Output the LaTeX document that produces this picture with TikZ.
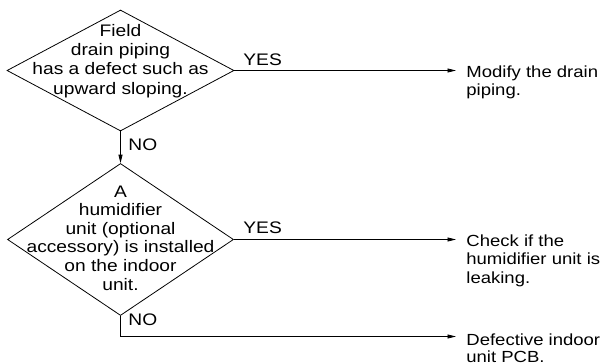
\documentclass[tikz,border=0pt]{standalone}
\usepackage{fontspec}
\setmainfont{Liberation Sans}[FakeStretch=1.15]
\usetikzlibrary{shapes.geometric,arrows.meta}
\begin{document}
\begin{tikzpicture}[x=1pt,y=-1pt,
  line width=0.8pt,
  dec/.style={draw,shape=diamond,inner sep=0pt},
  txt/.style={inner sep=0pt,font=\fontsize{16.7}{18.6}\selectfont},
  res/.style={inner sep=0pt,align=left,anchor=base west},
  lab/.style={inner sep=0pt,anchor=base west,font=\fontsize{16.7}{18.6}\selectfont},
  arr/.style={-{Triangle[length=8.5pt,width=4pt]}}]
\useasboundingbox (0,0) rectangle (603,364);
% decisions
\node[dec,minimum width=227pt,minimum height=121pt] (d1) at (120.5,70.5) {};
\node[txt,align=center,anchor=base,font=\fontsize{16.7}{19.3}\selectfont] (q1) at (120.5,94)
  {Field\\drain piping\\has a defect such as\\upward sloping.};
\node[dec,minimum width=226pt,minimum height=152pt] (d2) at (120.5,239.5) {};
\node[txt,align=center,anchor=base] (q2) at (120.5,290)
  {A\\humidifier\\unit (optional\\accessory) is installed\\on the indoor\\unit.};
% results
\node[res,font=\fontsize{16.1}{18}\selectfont] (r1) at (466,95.5) {Modify the drain\\piping.};
\node[res,font=\fontsize{16.1}{18.5}\selectfont] (r2) at (466,283) {Check if the\\humidifier unit is\\leaking.};
\node[res,font=\fontsize{16.1}{17}\selectfont] (r3) at (466,362) {Defective indoor\\unit PCB.};
\coordinate (a1) at (456,70.5);
\coordinate (a2) at (456,239.5);
\coordinate (a3) at (456,336.5);
% connectors
\draw[arr] (d1.east) -- (a1);
\draw[arr] (d1.south) -- (d2.north);
\draw[arr] (d2.east) -- (a2);
\draw[arr] (d2.south) |- (a3);
% labels
\node[lab] (y1) at (243,65) {YES};
\node[lab] (n1) at (128,150) {NO};
\node[lab] (y2) at (243,233) {YES};
\node[lab] (n2) at (128,325) {NO};
\end{tikzpicture}
\end{document}
